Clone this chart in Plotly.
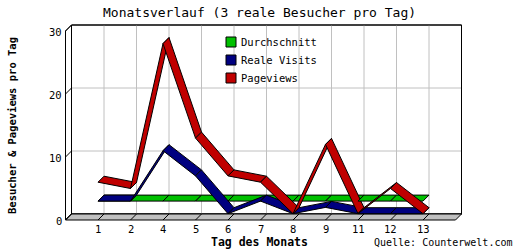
import plotly.graph_objects as go

# ---- data ----
days = ["1", "2", "4", "5", "6", "7", "8", "9", "11", "12", "13"]
durchschnitt = [3, 3, 3, 3, 3, 3, 3, 3, 3, 3, 3]
reale_visits = [3, 3, 11, 7, 1, 3, 1, 2, 1, 1, 1]
pageviews = [6, 5, 28, 13, 7, 6, 1, 12, 1, 5, 1]
y_ticks = [0, 10, 20, 30]
series_names = ["Durchschnitt", "Reale Visits", "Pageviews"]
series_colors = ["#00c000", "#000080", "#c00000"]

# ---- geometry (pixel mapping of the front plane) ----
W, H = 520, 250
X0, PX_IDX = 98.0, 32.5     # pixel of category 0, px per category
Y0, PX_VAL = 220.0, 6.3     # pixel of value 0, px per unit
DEPTH = 6.0                 # 3D depth offset in px
ddx = DEPTH / PX_IDX
ddy = DEPTH / PX_VAL
xr = [(0 - X0) / PX_IDX, (W - X0) / PX_IDX]
yr = [(Y0 - H) / PX_VAL, Y0 / PX_VAL]

n = len(days)
xl, xh = -1, n          # front extent in category units
ymax = y_ticks[-1]
MONO = "DejaVu Sans Mono"

fig = go.Figure()
shapes = []
ann = []

def line(x0, y0, x1, y1, color="black", width=1, layer="below"):
    shapes.append(dict(type="line", xref="x", yref="y", x0=x0, y0=y0, x1=x1, y1=y1,
                       line=dict(color=color, width=width), layer=layer))

def poly(pts, fill, layer="below"):
    path = "M " + " L ".join(f"{x},{y}" for x, y in pts) + " Z"
    shapes.append(dict(type="path", xref="x", yref="y", path=path, fillcolor=fill,
                       line=dict(color="black", width=1), layer=layer))

# back wall
poly([(xl + ddx, ddy), (xh + ddx, ddy), (xh + ddx, ymax + ddy), (xl + ddx, ymax + ddy)], "white")
# grid on back wall
for i in range(n):
    line(i + ddx, ddy, i + ddx, ymax + ddy, color="#c0c0c0")
for v in y_ticks[1:-1]:
    line(xl + ddx, v + ddy, xh + ddx, v + ddy, color="#c0c0c0")
# re-draw wall border on top of grid
shapes.append(dict(type="rect", xref="x", yref="y", x0=xl + ddx, y0=ddy, x1=xh + ddx, y1=ymax + ddy,
                   line=dict(color="black", width=1), layer="below"))
# left pillar
poly([(xl, 0), (xl, ymax), (xl + ddx, ymax + ddy), (xl + ddx, ddy)], "white")
for v in y_ticks:
    line(xl, v, xl + ddx, v + ddy)
# floor
poly([(xl, 0), (xh, 0), (xh + ddx, ddy), (xl + ddx, ddy)], "#c0c0c0")
for i in range(n):
    line(i, 0, i + ddx, ddy)
line(xl, 0, xl + ddx, ddy)

# ribbons, drawn segment by segment
all_series = [durchschnitt, reale_visits, pageviews]
for k in range(n - 1):
    for s, vals in enumerate(all_series):
        x1, x2 = k, k + 1
        y1, y2 = vals[k], vals[k + 1]
        fig.add_trace(go.Scatter(
            x=[x1, x2, x2 + ddx, x1 + ddx, x1],
            y=[y1, y2, y2 + ddy, y1 + ddy, y1],
            mode="lines", fill="toself", fillcolor=series_colors[s],
            line=dict(color="black", width=1), hoverinfo="skip", showlegend=False))

# category labels
for i, d in enumerate(days):
    ann.append(dict(x=i, y=0, xref="x", yref="y", text=d, showarrow=False,
                    yanchor="middle", yshift=-8.5, font=dict(family=MONO, size=10.5, color="black")))
# value labels
for v in y_ticks:
    ann.append(dict(x=xl, y=v, xref="x", yref="y", text=str(v), showarrow=False,
                    xanchor="right", xshift=-2, yshift=-1, yanchor="middle",
                    font=dict(family=MONO, size=10.5, color="black")))

def px(x, y):
    return x / W, 1 - y / H

# legend (manual)
for j, (name, col) in enumerate(zip(series_names, series_colors)):
    cy = 42 + 18 * j
    x0p, y0p = px(226, cy - 5)
    x1p, y1p = px(236, cy + 5)
    shapes.append(dict(type="rect", xref="paper", yref="paper", x0=x0p, y0=y0p, x1=x1p, y1=y1p,
                       fillcolor=col, line=dict(color="black", width=1), layer="above"))
    tx, ty = px(239, cy)
    ann.append(dict(x=tx, y=ty, xref="paper", yref="paper", text=name, showarrow=False,
                    xanchor="left", yanchor="middle", font=dict(family=MONO, size=10.5, color="black")))

# titles
tx, ty = px(259, 12)
ann.append(dict(x=tx, y=ty, xref="paper", yref="paper", text="Monatsverlauf (3 reale Besucher pro Tag)",
                showarrow=False, xanchor="center", yanchor="middle",
                font=dict(family=MONO, size=13, color="black")))
tx, ty = px(259, 242)
ann.append(dict(x=tx, y=ty, xref="paper", yref="paper", text="<b>Tag des Monats</b>",
                showarrow=False, xanchor="center", yanchor="middle",
                font=dict(family=MONO, size=11.5, color="black")))
tx, ty = px(514, 242)
ann.append(dict(x=tx, y=ty, xref="paper", yref="paper", text="Quelle: Counterwelt.com",
                showarrow=False, xanchor="right", yanchor="middle",
                font=dict(family=MONO, size=10, color="black")))
tx, ty = px(12, 126)
ann.append(dict(x=tx, y=ty, xref="paper", yref="paper", text="<b>Besucher &amp; Pageviews pro Tag</b>",
                showarrow=False, xanchor="center", yanchor="middle", textangle=-90,
                font=dict(family=MONO, size=10.5, color="black")))

fig.update_layout(
    width=W, height=H, autosize=False,
    margin=dict(l=0, r=0, t=0, b=0, pad=0),
    paper_bgcolor="white", plot_bgcolor="white",
    xaxis=dict(range=xr, visible=False, fixedrange=True),
    yaxis=dict(range=yr, visible=False, fixedrange=True),
    shapes=shapes, annotations=ann, showlegend=False,
)

fig.write_html("out.html")
